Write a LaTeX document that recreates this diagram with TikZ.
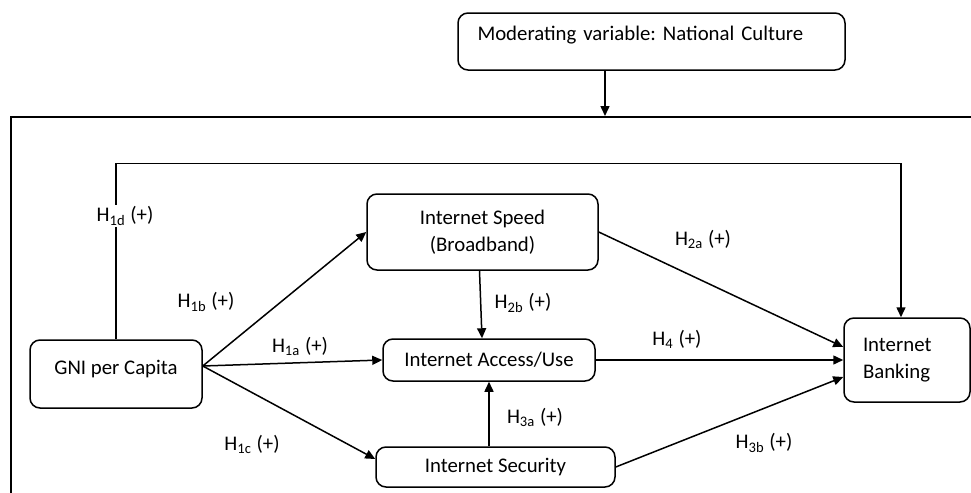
\documentclass[tikz,border=0pt]{standalone}
\usepackage{fontspec}
\setmainfont{Carlito}
\usetikzlibrary{arrows.meta, positioning}
\frenchspacing

\begin{document}
\begin{tikzpicture}[
      x=0.5pt, y=-0.5pt,
      font=\fontsize{10.4pt}{13.5pt}\selectfont,
      >={Triangle[length=5pt, width=4.5pt]},
      line/.style  = {line width=0.75pt, ->},
      block/.style = {rectangle, draw, line width=0.75pt, rounded corners=5pt,
        align=center, inner sep=2pt},
      hyp/.style   = {inner sep=1pt}
    ]
    \useasboundingbox (0,0) rectangle (971,493);
    \clip (0,0) rectangle (971,493);

    % ---------------- moderator ----------------
    \node[block, minimum width=193.5pt, minimum height=28.5pt,
    text width=174pt, align=left, text depth=8pt] (culture) at (651.5,41.5)
    {Moderating variable: National Culture};
    \node[draw, line width=0.75pt, minimum width=500pt, minimum height=210pt,
    anchor=north west] (frame) at (10,116) {};

    % ---------------- constructs ----------------
    \node[block, minimum width=86pt, minimum height=34pt, text depth=7pt]
    (gni) at (116,374) {GNI per Capita};
    \node[block, minimum width=115.5pt, minimum height=38pt]
    (speed) at (482.5,232) {Internet Speed\\(Broadband)};
    \node[block, minimum width=106pt, minimum height=21pt]
    (access) at (489,360) {Internet Access/Use};
    \node[block, minimum width=119.5pt, minimum height=20pt]
    (security) at (495.5,467) {Internet Security};
    \node[block, minimum width=63pt, minimum height=42pt, text width=44pt,
    align=left] (banking) at (907,360) {Internet\\Banking};

    % ---------------- hypotheses ----------------
    \node[hyp] (h1a) at (300,346) {H\textsubscript{1a} (+)};
    \node[hyp] (h1b) at (206,302) {H\textsubscript{1b} (+)};
    \node[hyp] (h1c) at (252,444) {H\textsubscript{1c} (+)};
    \node[hyp] (h2a) at (703,239) {H\textsubscript{2a} (+)};
    \node[hyp] (h2b) at (523,303) {H\textsubscript{2b} (+)};
    \node[hyp] (h3a) at (535,417) {H\textsubscript{3a} (+)};
    \node[hyp] (h3b) at (764,443) {H\textsubscript{3b} (+)};
    \node[hyp] (h4)  at (677,339) {H\textsubscript{4} (+)};

    % ---------------- arrows ----------------
    \draw[line] ([xshift=-23.25pt]culture.south)
    -- ([xshift=-23.25pt]culture.south |- frame.north);

    \coordinate (gniout) at ([yshift=4pt]gni.east);
    \draw[line] (gniout) -- (speed.west);
    \draw[line] (gniout) -- (access.west);
    \draw[line] (gniout) -- ([yshift=4pt]security.west);

    \draw[line] ([xshift=-1.5pt]speed.south) -- ([xshift=-3.5pt]access.north);
    \draw[line] (access.south |- security.north) -- (access.south);

    \draw[line] (speed.east) -- ([yshift=6.5pt]banking.west);
    \draw[line] (access.east) -- (banking.west);
    \draw[line] (security.east) -- ([yshift=-8.5pt]banking.west);

    % direct path GNI -> banking
    \draw[line] (gni.north) -- node[hyp, fill=white, pos=0.7, xshift=4.5pt]
    (h1d) {H\textsubscript{1d} (+)} ++(0,-176) -| ([xshift=-3pt]banking.north);

  \end{tikzpicture}
\end{document}
